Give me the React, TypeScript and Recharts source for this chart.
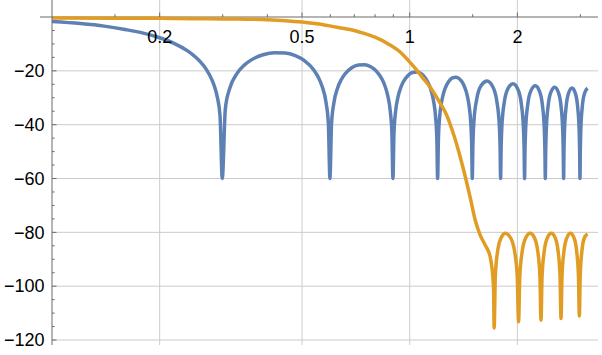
import { LineChart, Line, XAxis, YAxis, CartesianGrid, ReferenceLine, ReferenceDot } from "recharts";

// blue: frequency (rad/sample) and magnitude in dB
const blueW = [
  0.1, 0.12, 0.14, 0.16, 0.18, 0.2, 0.22, 0.24, 0.25, 0.26, 0.27, 0.28, 0.285, 0.29, 0.295, 0.2992,
  0.3052, 0.3142, 0.3291, 0.3441, 0.359, 0.389, 0.4189, 0.4488, 0.4787, 0.5086, 0.5386, 0.5535, 0.5685, 0.5834, 0.5924, 0.5984,
  0.6044, 0.6134, 0.6283, 0.6434, 0.6582, 0.6882, 0.7181, 0.748, 0.7779, 0.8078, 0.8378, 0.8527, 0.8677, 0.8826, 0.8916, 0.8976,
  0.9036, 0.9126, 0.9275, 0.9425, 0.9574, 0.9874, 1.0173, 1.0472, 1.0771, 1.107, 1.137, 1.1519, 1.1669, 1.1818, 1.1908, 1.1968,
  1.2028, 1.2117, 1.2267, 1.2416, 1.2566, 1.2865, 1.3165, 1.3464, 1.3763, 1.4062, 1.4362, 1.4511, 1.4661, 1.481, 1.49, 1.496,
  1.502, 1.511, 1.5409, 1.5858, 1.6456, 1.7054, 1.7503, 1.7802, 1.7892, 1.7952,
  1.8012, 1.8101, 1.84, 1.8849, 1.9448, 2.0046, 2.0495, 2.0794, 2.0883, 2.0944,
  2.1004, 2.1094, 2.1393, 2.1842, 2.244, 2.3038, 2.3487, 2.3786, 2.3876, 2.3936,
  2.3996, 2.4086, 2.4385, 2.4834, 2.5432, 2.603, 2.6479, 2.6778, 2.6868, 2.6928,
  2.6988, 2.7078, 2.7377, 2.7826, 2.8424, 2.9022, 2.9471, 2.977, 2.986, 2.992,
  2.998, 3.007, 3.0369, 3.0818, 3.1416,
];
const blueDb = [
  -1.66, -2.43, -3.38, -4.62, -5.97, -7.71, -9.88, -12.69, -14.51, -16.64, -19.44, -23.37, -26.07, -29.95, -36.9, -60,
  -34.1, -26.4, -20.93, -17.97, -16.1, -14.01, -13.24, -13.39, -14.38, -16.3, -19.57, -22.04, -25.6, -31.7, -39.75, -60,
  -39.9, -32.1, -26.44, -23.3, -21.25, -18.85, -17.8, -17.7, -18.46, -20.17, -23.25, -25.64, -29.12, -35.1, -43.1, -60,
  -43.2, -35.4, -29.66, -26.45, -24.33, -21.8, -20.63, -20.42, -21.07, -22.7, -25.69, -28.03, -31.47, -37.44, -45.4, -60,
  -45.5, -37.6, -31.85, -28.6, -26.45, -23.85, -22.62, -22.34, -22.94, -24.5, -27.43, -29.74, -33.15, -39.1, -47.1, -60,
  -47.1, -39.2, -30.2, -25.34, -23.75, -25.82, -31.0, -40.3, -48.3, -60,
  -48.3, -40.4, -31.3, -26.44, -24.79, -26.8, -31.95, -41.2, -49.2, -60,
  -49.2, -41.3, -32.2, -27.25, -25.54, -27.5, -32.6, -41.9, -49.8, -60,
  -49.8, -41.9, -32.8, -27.8, -26.05, -27.96, -33.0, -42.3, -50.2, -60,
  -50.2, -42.3, -33.1, -28.14, -26.35, -28.22, -33.3, -42.5, -50.4, -60,
  -50.4, -42.5, -33.3, -28.28, -26.44,
];

// orange
const orangeW = [
  0.1, 0.15, 0.2, 0.25, 0.3, 0.35, 0.4, 0.45, 0.5, 0.55, 0.598, 0.65, 0.7, 0.74, 0.8,
  0.881, 0.94, 0.989, 1.035, 1.09, 1.14, 1.216, 1.272, 1.314, 1.357, 1.41, 1.475, 1.524,
  1.574, 1.625, 1.679, 1.715, 1.722,
  1.735, 1.76, 1.8, 1.85, 1.915, 1.965, 1.998, 2.015,
  2.031, 2.062, 2.109, 2.1715, 2.234, 2.281, 2.312, 2.328,
  2.344, 2.376, 2.424, 2.488, 2.552, 2.6, 2.632, 2.648,
  2.665, 2.698, 2.748, 2.814, 2.88, 2.93, 2.963, 2.98,
  2.996, 3.028, 3.077, 3.1416,
];
const orangeDb = [
  -0.4, -0.45, -0.5, -0.6, -0.7, -0.8, -1.0, -1.35, -1.85, -2.5, -3.3, -4.2, -5.0, -5.95, -7.5,
  -10.4, -13.0, -16.0, -19.0, -22.8, -26.0, -32.0, -36.8, -42.0, -47.9, -56.1, -66.9, -75.4,
  -81.0, -84.7, -89.1, -100.3, -115.5,
  -96.4, -87.2, -82.1, -80.3, -82.1, -87.2, -96.4, -113.2,
  -96.4, -87.2, -82.1, -80.3, -82.1, -87.2, -96.4, -112.6,
  -96.4, -87.2, -82.1, -80.3, -82.1, -87.2, -96.4, -112.0,
  -96.4, -87.2, -82.1, -80.3, -82.1, -87.2, -96.4, -111.1,
  -96.4, -87.2, -82.1, -80.6,
];

const xMajor = [0.2, 0.5, 1, 2];
const xMinor = [0.15, 0.3, 0.4, 0.6, 0.7, 0.8, 0.9, 1.5, 3];
const yMajor = [-120, -100, -80, -60, -40, -20];
const yTicks = [
  -120, -115, -110, -105, -100, -95, -90, -85, -80, -75, -70, -65, -60,
  -55, -50, -45, -40, -35, -30, -25, -20, -15, -10, -5,
];

const blueData = blueW.map((w, i) => ({ w, db: blueDb[i] }));
const orangeData = orangeW.map((w, i) => ({ w, db: orangeDb[i] }));

const font = "'Liberation Sans', Arial, Helvetica, sans-serif";
const axisColor = "#6b6b6b";
const gridColor = "#cccccc";

const YTick = (props: any) => {
  const { x, y, payload } = props;
  const v = payload.value;
  const major = v % 20 === 0;
  return (
    <g>
      <line x1={x} y1={y} x2={x + (major ? 4.5 : 2.6)} y2={y} stroke={axisColor} strokeWidth={1} />
      {major && (
        <text x={x - 7.5} y={y} dy={6.3} textAnchor="end" fontSize={18} fontFamily={font} fill="#000">
          {"\u2212" + Math.abs(v)}
        </text>
      )}
    </g>
  );
};

const xTickShape = (label: string | null) => (props: any) => {
  const { cx, cy } = props;
  return (
    <g>
      <line x1={cx} y1={cy} x2={cx} y2={cy - (label ? 4.5 : 2.8)} stroke={axisColor} strokeWidth={1} />
      {label && (
        <text x={cx} y={cy + 26.3} textAnchor="middle" fontSize={18} fontFamily={font} fill="#000">
          {label}
        </text>
      )}
    </g>
  );
};

export default function App() {
  return (
    <div>
      <style>{"body{margin:0}"}</style>
      <LineChart width={602} height={355} margin={{ top: 0, right: 4, bottom: 10, left: 0 }}>
        <CartesianGrid
          stroke={gridColor}
          verticalValues={xMajor}
          horizontalValues={yMajor}
        />
        <XAxis
          dataKey="w"
          type="number"
          scale="log"
          domain={[0.1, 3.36]}
          allowDataOverflow
          hide
        />
        <YAxis
          type="number"
          domain={[-121.85, 6.32]}
          allowDataOverflow
          ticks={yTicks}
          interval={0}
          width={52}
          tickSize={0}
          tickMargin={0}
          tickLine={false}
          axisLine={{ stroke: axisColor }}
          tick={YTick}
        />
        <ReferenceLine
          segment={[{ x: 0.0926, y: 0 }, { x: 3.36, y: 0 }]}
          ifOverflow="visible"
          stroke={axisColor}
          strokeWidth={1}
        />
        <Line
          data={blueData}
          dataKey="db"
          type="monotone"
          stroke="#5E81B5"
          strokeWidth={3.5}
          dot={false}
          activeDot={false}
          isAnimationActive={false}
        />
        <Line
          data={orangeData}
          dataKey="db"
          type="monotone"
          stroke="#E19C24"
          strokeWidth={3.5}
          dot={false}
          activeDot={false}
          isAnimationActive={false}
        />
        {xMinor.map((v) => (
          <ReferenceDot key={"m" + v} x={v} y={0} r={0} shape={xTickShape(null)} />
        ))}
        {xMajor.map((v) => (
          <ReferenceDot key={"M" + v} x={v} y={0} r={0} shape={xTickShape(String(v))} />
        ))}
      </LineChart>
    </div>
  );
}
